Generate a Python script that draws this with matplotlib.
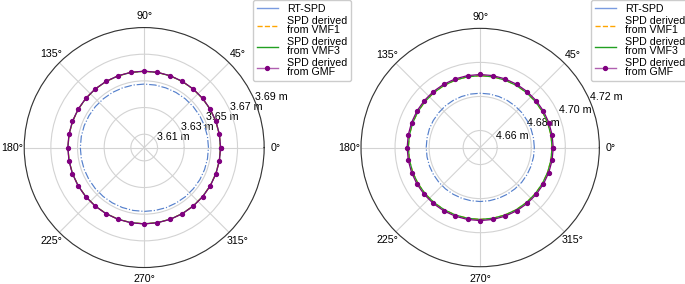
import numpy as np
import matplotlib
matplotlib.use('Agg')
from matplotlib import pyplot as plt
from matplotlib.lines import Line2D
from matplotlib.ticker import FormatStrFormatter

plt.rcParams['font.family'] = ['Liberation Sans', 'DejaVu Sans']
plt.rcParams['font.size'] = 7.7

# azimuth, every 10 degrees (closed ring)
azimuth_deg = [0, 10, 20, 30, 40, 50, 60, 70, 80, 90, 100, 110, 120, 130, 140, 150, 160, 170,
               180, 190, 200, 210, 220, 230, 240, 250, 260, 270, 280, 290, 300, 310, 320, 330,
               340, 350, 360]

# left station
rt_spd_a = [3.6482, 3.6482, 3.6481, 3.6480, 3.6479, 3.6478, 3.6477, 3.6476, 3.6476, 3.6476,
            3.6476, 3.6476, 3.6477, 3.6477, 3.6478, 3.6478, 3.6479, 3.6479, 3.6479, 3.6479,
            3.6479, 3.6479, 3.6479, 3.6479, 3.6479, 3.6479, 3.6479, 3.6479, 3.6479, 3.6480,
            3.6480, 3.6481, 3.6481, 3.6482, 3.6482, 3.6482, 3.6482]
vmf1_a = [3.6572] * 37
vmf3_a = [3.6572] * 37
gmf_a = [3.6573] * 37

# right station
rt_spd_b = [4.6818, 4.6818, 4.6818, 4.6818, 4.6819, 4.6819, 4.6819, 4.6819, 4.6819, 4.6819,
            4.6819, 4.6819, 4.6819, 4.6819, 4.6818, 4.6818, 4.6818, 4.6817, 4.6817, 4.6817,
            4.6817, 4.6817, 4.6817, 4.6817, 4.6817, 4.6817, 4.6817, 4.6817, 4.6817, 4.6817,
            4.6817, 4.6817, 4.6818, 4.6818, 4.6818, 4.6818, 4.6818]
vmf1_b = [4.6922] * 37
vmf3_b = [4.6922] * 37
gmf_b = [4.6929] * 37

panels = [
    (rt_spd_a, vmf1_a, vmf3_a, gmf_a, (3.60, 3.69), [3.61, 3.63, 3.65, 3.67, 3.69]),
    (rt_spd_b, vmf1_b, vmf3_b, gmf_b, (4.65, 4.72), [4.66, 4.68, 4.70, 4.72]),
]

theta = np.deg2rad(azimuth_deg)

fig = plt.figure(figsize=(6.85, 2.84), dpi=100)
rects = [[0.035, 0.058, 0.351, 0.845], [0.527, 0.058, 0.348, 0.845]]
legend_x = [253 / 685, 591 / 685]

for i, (rt, v1, v3, gmf, lim, ticks) in enumerate(panels):
    ax = fig.add_axes(rects[i], projection='polar')
    ax.plot(theta, rt, color='#5580cc', lw=0.85, ls='-.')
    ax.plot(theta, v1, color='orange', lw=0.9, ls='--')
    ax.plot(theta, v3, color='#22a022', lw=0.9)
    ax.plot(theta, gmf, color='purple', lw=0.9, marker='o', ms=2.8)
    ax.set_rlim(lim)
    ax.set_rticks(ticks)
    ax.yaxis.set_major_formatter(FormatStrFormatter('%.2f m'))
    ax.set_rlabel_position(22.5)
    ax.grid(color='#d3d3d3', lw=0.8)
    ax.spines['polar'].set_linewidth(0.8)
    ax.spines['polar'].set_color('#333333')
    ax.tick_params(axis='both', labelsize=7.7)
    ax.tick_params(axis='x', pad=-2)

    handles = [
        Line2D([], [], color='#7a9be0', lw=1),
        Line2D([], [], color='orange', lw=1, ls='--'),
        Line2D([], [], color='#22a022', lw=1),
        Line2D([], [], color='#b060b0', lw=1, marker='o', ms=2.8,
               mfc='purple', mec='purple'),
    ]
    labels = ['RT-SPD', 'SPD derived\nfrom VMF1', 'SPD derived\nfrom VMF3',
              'SPD derived\nfrom GMF']
    leg = fig.legend(handles, labels, loc='upper left', bbox_to_anchor=(legend_x[i], 1.0),
                     bbox_transform=fig.transFigure, borderaxespad=0, fontsize=7.7,
                     labelspacing=0.2, handletextpad=0.8, borderpad=0.35,
                     fancybox=True, framealpha=1, edgecolor='#cccccc')
    for t in leg.get_texts():
        t.set_linespacing(0.88)

plt.savefig('out.png', dpi=100)
